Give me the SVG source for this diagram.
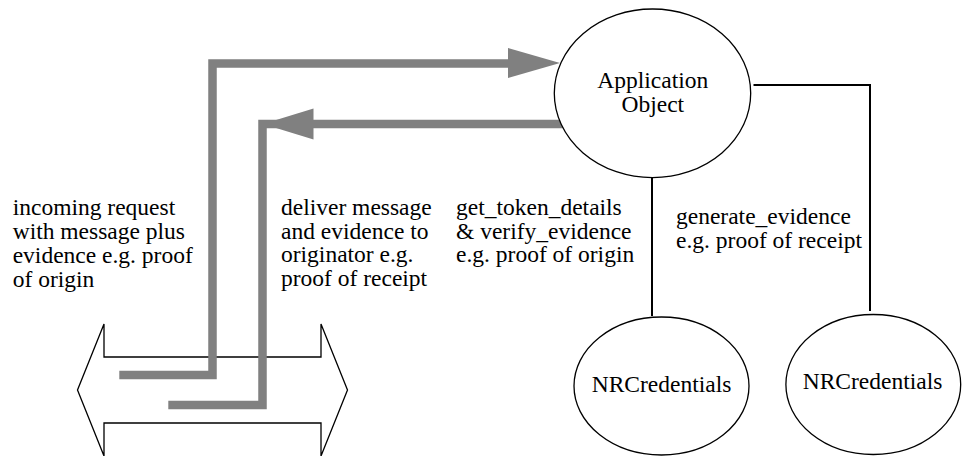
<svg xmlns="http://www.w3.org/2000/svg" width="963" height="456" viewBox="0 0 963 456">
<style>
.t{font-family:'Liberation Serif','Tinos','DejaVu Serif',serif;font-size:23.5px;fill:#000}
.m{text-anchor:middle}
.node{fill:#fff;stroke:#000;stroke-width:1.3}
.conn{fill:none;stroke:#000;stroke-width:2}
.flow{fill:none;stroke:#808080;stroke-width:8.5;stroke-linejoin:miter}
.head{fill:#808080;stroke:none}
</style>
<rect width="963" height="456" fill="#fff"/>
<g id="channel">
<polygon class="node" points="104,324 104,357 321,357 321,324 347.5,390 321,456 321,423 104,423 104,456 77.5,390"/>
</g>
<g id="connectors">
<path class="conn" d="M753.5,85 H870 V311"/>
<path class="conn" d="M652,177.5 V316"/>
<path class="flow" d="M119.3,375 H212.5 V63.5 H512"/>
<polygon class="head" points="508,48 560,63 508,78"/>
<path class="flow" d="M168.3,405 H262.5 V124 H563.3"/>
<polygon class="head" points="313.5,108.5 263,124 313.5,139.5"/>
</g>
<g id="application-object">
<ellipse class="node" cx="652.5" cy="93.3" rx="98.2" ry="84.3"/>
<text class="t m" x="652.8" y="87.5" font-family="Liberation Serif, serif">Application</text>
<text class="t m" x="652.8" y="111.5">Object</text>
</g>
<g id="nrcredentials-1">
<ellipse class="node" cx="661.5" cy="386" rx="87.5" ry="69"/>
<text class="t m" x="661.5" y="392">NRCredentials</text>
</g>
<g id="nrcredentials-2">
<ellipse class="node" cx="873.3" cy="384.5" rx="87.4" ry="70"/>
<text class="t m" x="872.5" y="389">NRCredentials</text>
</g>
<g id="labels">
<text class="t" x="12.7" y="215">incoming request</text>
<text class="t" x="12.7" y="239">with message plus</text>
<text class="t" x="12.7" y="263">evidence e.g. proof</text>
<text class="t" x="12.7" y="287">of origin</text>
<text class="t" x="281" y="215">deliver message</text>
<text class="t" x="281" y="238.5">and evidence to</text>
<text class="t" x="281" y="262">originator e.g.</text>
<text class="t" x="281" y="285.5">proof of receipt</text>
<text class="t" x="456" y="215">get_token_details</text>
<text class="t" x="456" y="238.5">&amp; verify_evidence</text>
<text class="t" x="456" y="262">e.g. proof of origin</text>
<text class="t" x="676" y="224">generate_evidence</text>
<text class="t" x="676" y="247.5">e.g. proof of receipt</text>
</g>
</svg>
